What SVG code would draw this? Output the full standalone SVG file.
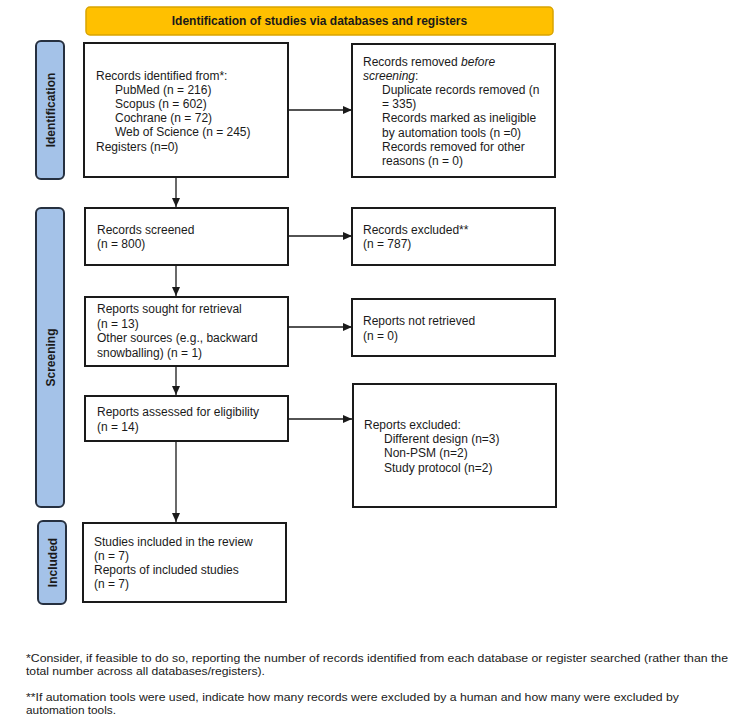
<svg xmlns="http://www.w3.org/2000/svg" width="750" height="726" viewBox="0 0 750 726">
<style>
  text { font-family: "Liberation Sans", Arial, sans-serif; font-size: 12px; fill: #1a1a1a; }
  .box { fill: #ffffff; stroke: #1a1a1a; stroke-width: 2; }
  .side { fill: #a4c2e8; stroke: #263040; stroke-width: 2; }
  .sidetxt { font-weight: bold; font-size: 12px; text-anchor: middle; }
  .banner { fill: #ffc000; stroke: #d9a400; stroke-width: 1.5; }
  .bantxt { font-weight: bold; text-anchor: middle; }
  .conn { stroke: #1a1a1a; stroke-width: 1.3; fill: none; marker-end: url(#arr); }
  .it { font-style: italic; }
  .foot { font-size: 11px; }
</style>
<defs>
  <marker id="arr" markerUnits="userSpaceOnUse" markerWidth="10" markerHeight="8" refX="9" refY="4" orient="auto">
    <path d="M0,0 L9,4 L0,8 z" fill="#1a1a1a"/>
  </marker>
</defs>
<rect width="750" height="726" fill="#ffffff"/>

<g id="banner">
  <rect class="banner" x="86" y="7" width="467" height="28" rx="4"/>
  <text class="bantxt" x="319.5" y="25">Identification of studies via databases and registers</text>
</g>

<g id="label-identification">
  <rect class="side" x="36" y="41" width="28" height="138" rx="5"/>
  <text class="sidetxt" transform="translate(54.5,110) rotate(-90)">Identification</text>
</g>
<g id="label-screening">
  <rect class="side" x="36" y="208" width="28" height="299" rx="5"/>
  <text class="sidetxt" transform="translate(54.5,357.5) rotate(-90)">Screening</text>
</g>
<g id="label-included">
  <rect class="side" x="38" y="521" width="28" height="83" rx="5"/>
  <text class="sidetxt" transform="translate(56.5,562.5) rotate(-90)">Included</text>
</g>

<g id="records-identified">
  <rect class="box" x="84" y="43" width="204" height="134"/>
  <text x="96" y="80">Records identified from*:</text>
  <text x="115" y="94">PubMed (n = 216)</text>
  <text x="115" y="108">Scopus (n = 602)</text>
  <text x="115" y="122">Cochrane (n = 72)</text>
  <text x="115" y="136">Web of Science (n = 245)</text>
  <text x="96" y="151">Registers (n=0)</text>
</g>

<g id="records-removed">
  <rect class="box" x="352" y="44" width="203" height="133"/>
  <text x="363" y="66">Records removed <tspan class="it">before</tspan></text>
  <text x="363" y="80"><tspan class="it">screening</tspan>:</text>
  <text x="382" y="94">Duplicate records removed (n</text>
  <text x="382" y="108">= 335)</text>
  <text x="382" y="122">Records marked as ineligible</text>
  <text x="382" y="137">by automation tools (n =0)</text>
  <text x="382" y="151">Records removed for other</text>
  <text x="382" y="165">reasons (n = 0)</text>
</g>

<g id="records-screened">
  <rect class="box" x="85" y="208" width="203" height="57"/>
  <text x="97" y="234">Records screened</text>
  <text x="97" y="248">(n = 800)</text>
</g>

<g id="records-excluded">
  <rect class="box" x="352" y="208" width="203" height="57"/>
  <text x="363" y="234">Records excluded**</text>
  <text x="363" y="248">(n = 787)</text>
</g>

<g id="reports-sought">
  <rect class="box" x="85" y="297" width="203" height="69"/>
  <text x="97" y="313">Reports sought for retrieval</text>
  <text x="97" y="328">(n = 13)</text>
  <text x="97" y="342">Other sources (e.g., backward</text>
  <text x="97" y="357">snowballing) (n = 1)</text>
</g>

<g id="reports-not-retrieved">
  <rect class="box" x="352" y="299" width="203" height="57"/>
  <text x="363" y="325">Reports not retrieved</text>
  <text x="363" y="340">(n = 0)</text>
</g>

<g id="reports-assessed">
  <rect class="box" x="85" y="396" width="203" height="45"/>
  <text x="97" y="416">Reports assessed for eligibility</text>
  <text x="97" y="431">(n = 14)</text>
</g>

<g id="reports-excluded">
  <rect class="box" x="353" y="384" width="203" height="123"/>
  <text x="364" y="429">Reports excluded:</text>
  <text x="384" y="443">Different design (n=3)</text>
  <text x="384" y="457">Non-PSM (n=2)</text>
  <text x="384" y="472">Study protocol (n=2)</text>
</g>

<g id="studies-included">
  <rect class="box" x="83" y="523" width="203" height="79"/>
  <text x="94" y="546">Studies included in the review</text>
  <text x="94" y="560">(n = 7)</text>
  <text x="94" y="574">Reports of included studies</text>
  <text x="94" y="588">(n = 7)</text>
</g>

<g id="connectors">
  <line class="conn" x1="288" y1="110" x2="352" y2="110"/>
  <line class="conn" x1="288" y1="236" x2="352" y2="236"/>
  <line class="conn" x1="288" y1="327" x2="352" y2="327"/>
  <line class="conn" x1="288" y1="419" x2="352" y2="419"/>
  <line class="conn" x1="176" y1="177" x2="176" y2="207"/>
  <line class="conn" x1="176" y1="265" x2="176" y2="296"/>
  <line class="conn" x1="176" y1="366" x2="176" y2="395"/>
  <line class="conn" x1="176" y1="441" x2="176" y2="522"/>
</g>

<g id="footnotes">
  <text class="foot" x="26" y="662" textLength="702" lengthAdjust="spacingAndGlyphs">*Consider, if feasible to do so, reporting the number of records identified from each database or register searched (rather than the</text>
  <text class="foot" x="26" y="675" textLength="239" lengthAdjust="spacingAndGlyphs">total number across all databases/registers).</text>
  <text class="foot" x="26" y="701" textLength="653" lengthAdjust="spacingAndGlyphs">**If automation tools were used, indicate how many records were excluded by a human and how many were excluded by</text>
  <text class="foot" x="26" y="714" textLength="90" lengthAdjust="spacingAndGlyphs">automation tools.</text>
</g>
</svg>
